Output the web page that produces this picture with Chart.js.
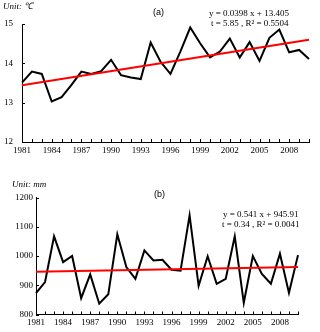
<!DOCTYPE html>
<html><head><meta charset="utf-8">
<script src="https://cdn.jsdelivr.net/npm/chart.js@4/dist/chart.umd.min.js"></script>
<style>
body{margin:0;background:#fff;width:320px;height:332px;position:relative;overflow:hidden}
.box{position:absolute;left:0;width:320px}
.t{position:absolute;font-family:"Liberation Serif",serif;font-size:9px;color:#000;white-space:nowrap;line-height:10px}
.i{font-style:italic}
.s{font-family:"Liberation Sans",Arial,sans-serif}
</style></head>
<body>
<div class="box" style="top:0;height:165px"><canvas id="ca"></canvas></div>
<div class="box" style="top:165px;height:167px"><canvas id="cb"></canvas></div>
<div class="t i" style="left:3px;top:1px">Unit: ℃</div>
<div class="t s" style="left:153px;top:7px">(a)</div>
<div class="t" style="left:209px;top:8px">y = 0.0398 x + 13.405</div>
<div class="t" style="left:211px;top:18px">t = 5.85 , R² = 0.5504</div>
<div class="t i" style="left:12px;top:179px">Unit: mm</div>
<div class="t s" style="left:154px;top:189px">(b)</div>
<div class="t" style="left:223px;top:209px">y = 0.541 x + 945.91</div>
<div class="t" style="left:222px;top:219px">t = 0.34 , R² = 0.0041</div>
<script>
const years = ['1981','1982','1983','1984','1985','1986','1987','1988','1989','1990','1991','1992','1993','1994','1995','1996','1997','1998','1999','2000','2001','2002','2003','2004','2005','2006','2007','2008','2009','2010'];
const yearTickLabels = ['1981','1984','1987','1990','1993','1996','1999','2002','2005','2008'];
const temperature = [13.51,13.79,13.73,13.03,13.14,13.45,13.79,13.73,13.80,14.09,13.70,13.64,13.60,14.53,14.04,13.73,14.30,14.91,14.51,14.15,14.30,14.63,14.15,14.54,14.06,14.65,14.86,14.28,14.34,14.11];
const tempTrendEnds = [13.44, 14.60];
const precipitation = [873,911,1067,979,1000,856,937,837,869,1074,962,922,1019,985,987,953,950,1139,898,999,905,922,1067,840,1000,939,905,1008,874,1003];
const precipTrendEnds = [946.5, 962.1];
const tempTicks = [12,13,14,15];
const precipTicks = [800,900,1000,1100,1200];

function trendSeries(ends){
  return years.map((y,i)=> i===0 ? ends[0] : (i===years.length-1 ? ends[1] : null));
}
const insideTicks = {
  id:'insideTicks',
  afterDraw(chart){
    const ctx=chart.ctx, x=chart.scales.x, y=chart.scales.y;
    ctx.save(); ctx.strokeStyle='#000'; ctx.lineWidth=1; ctx.beginPath();
    x.ticks.forEach((t,i)=>{const px=Math.round(x.getPixelForTick(i))+0.5; ctx.moveTo(px,x.top); ctx.lineTo(px,x.top-3);});
    y.ticks.forEach((t,i)=>{const py=Math.round(y.getPixelForTick(i))+0.5; ctx.moveTo(y.right,py); ctx.lineTo(y.right+3,py);});
    ctx.stroke(); ctx.restore();
  }
};
const tickFont = {family:'"Liberation Serif", serif', size:9};
function make(id, values, ends, yTicks, o){
  return new Chart(document.getElementById(id), {
    type:'line',
    data:{labels:years, datasets:[
      {data:trendSeries(ends), borderColor:'#ff0000', borderWidth:2, pointRadius:0, spanGaps:true, tension:0},
      {data:values, borderColor:'#000', borderWidth:2, pointRadius:0, tension:0}
    ]},
    options:{
      responsive:true, maintainAspectRatio:false, animation:false,
      layout:{padding:{top:o.top, right:o.right, left:0, bottom:0}},
      plugins:{legend:{display:false}, tooltip:{enabled:false}},
      scales:{
        x:{type:'category', offset:false,
           grid:{display:true, drawOnChartArea:false, drawTicks:false},
           border:{display:true, color:'#000', width:1},
           ticks:{autoSkip:false, maxRotation:0, color:'#000', font:tickFont, padding:o.xpad,
                  callback:function(v,i){const l=this.getLabelForValue(v); return yearTickLabels.includes(l)?l:'';}},
           afterFit:s=>{s.height=o.xh;}},
        y:{min:yTicks[0], max:yTicks[yTicks.length-1],
           grid:{display:true, drawOnChartArea:false, drawTicks:false},
           border:{display:true, color:'#000', width:1},
           afterBuildTicks:s=>{s.ticks=yTicks.map(v=>({value:v}));},
           ticks:{color:'#000', font:tickFont, padding:o.ypad, callback:v=>String(v)},
           afterFit:s=>{s.width=o.yw;}}
      }
    },
    plugins:[insideTicks]
  });
}
make('ca', temperature, tempTrendEnds, tempTicks, {top:24, right:11, xh:23, yw:22, xpad:3, ypad:9});
make('cb', precipitation, precipTrendEnds, precipTicks, {top:32.5, right:22, xh:17.5, yw:36, xpad:3, ypad:3});
</script>
</body></html>
